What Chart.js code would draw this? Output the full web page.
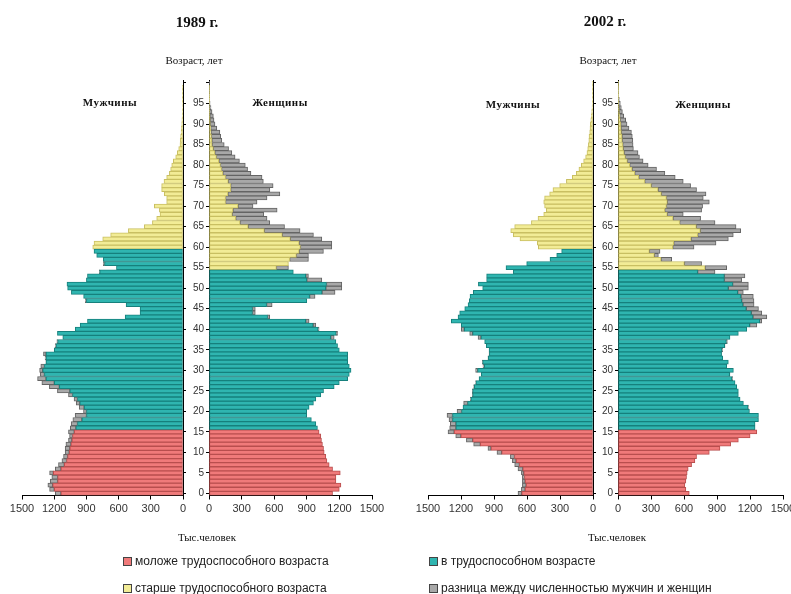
<!DOCTYPE html>
<html><head><meta charset="utf-8">
<script src="https://cdn.jsdelivr.net/npm/chart.js@4/dist/chart.umd.min.js"></script>
<style>
body{margin:0;width:791px;height:594px;overflow:hidden;background:#fff;position:relative;}
canvas{position:absolute;left:0;top:0;}
.t{position:absolute;font-family:"Liberation Serif","Times New Roman",serif;color:#111;white-space:nowrap;transform:translate(-50%,-50%);}
.yr{font-size:15px;font-weight:bold;}
.sm{font-size:11px;}
.sx{font-size:11px;font-weight:bold;letter-spacing:0.5px;}
.lg{position:absolute;font-family:"Liberation Sans",Arial,sans-serif;font-size:12px;color:#222;white-space:nowrap;transform:translateY(-50%);}
.lg i{display:inline-block;width:7px;height:7px;border:1px solid #444;margin-right:3px;vertical-align:-1px;}
</style></head><body>
<canvas id="m89" width="820" height="594"></canvas>
<canvas id="w89" width="820" height="594"></canvas>
<canvas id="m02" width="820" height="594"></canvas>
<canvas id="w02" width="820" height="594"></canvas>

<div class="t yr" style="left:197px;top:22px">1989 г.</div>
<div class="t yr" style="left:605px;top:21px">2002 г.</div>
<div class="t sm" style="left:194px;top:60px">Возраст, лет</div>
<div class="t sm" style="left:608px;top:60px">Возраст, лет</div>
<div class="t sx" style="left:110px;top:102px">Мужчины</div>
<div class="t sx" style="left:280px;top:102px">Женщины</div>
<div class="t sx" style="left:513px;top:104px">Мужчины</div>
<div class="t sx" style="left:703px;top:104px">Женщины</div>
<div class="t sm" style="left:207px;top:537px">Тыс.человек</div>
<div class="t sm" style="left:617px;top:537px">Тыс.человек</div>

<div class="lg" style="left:123px;top:561px"><i style="background:#F07A7A"></i>моложе трудоспособного возраста</div>
<div class="lg" style="left:123px;top:588px"><i style="background:#F2EC96"></i>старше трудоспособного возраста</div>
<div class="lg" style="left:429px;top:561px"><i style="background:#2FB5B0"></i>в трудоспособном возрасте</div>
<div class="lg" style="left:429px;top:588px"><i style="background:#A8A8A8"></i>разница между численностью мужчин и женщин</div>

<script>
// Age categories 0..100
const ages = [0,1,2,3,4,5,6,7,8,9,10,11,12,13,14,15,16,17,18,19,20,21,22,23,24,25,26,27,28,29,30,31,32,33,34,35,36,37,38,39,40,41,42,43,44,45,46,47,48,49,50,51,52,53,54,55,56,57,58,59,60,61,62,63,64,65,66,67,68,69,70,71,72,73,74,75,76,77,78,79,80,81,82,83,84,85,86,87,88,89,90,91,92,93,94,95,96,97,98,99,100];
const xTicks = [0,300,600,900,1200,1500];

// Population, thousand persons, by single year of age (index = age)
const men1989 = [1190,1243,1259,1237,1222,1243,1190,1160,1128,1113,1098,1098,1091,1067,1057,1067,1050,1042,1026,1005,927,967,995,1015,1067,1170,1245,1315,1355,1330,1336,1325,1278,1285,1300,1200,1190,1175,1120,1170,1004,958,890,539,400,400,530,
  910,926,1040,1075,1081,900,890,780,620,742,742,804,829,841,829,748,674,509,360,285,
  245,214,220,267,152,152,174,199,199,177,152,127,115,105,90,68,53,40,28,26,22,18,15,12,10,8,6,5,4,3,2,1,1,0];
const women1989 = [1137,1199,1214,1168,1168,1208,1137,1106,1085,1075,1060,1054,1044,1035,1029,1013,998,983,942,899,899,921,961,983,1029,1054,1152,1199,1276,1291,1307,1291,1276,1276,1276,1199,1183,1168,1152,1183,1013,983,921,559,426,426,581,
  900,976,1160,1222,1222,1038,915,776,731,731,915,915,1053,1130,1130,1038,961,838,
  695,559,534,504,627,405,442,534,652,560,590,500,488,386,355,334,280,240,210,180,140,118,108,100,72,55,46,40,28,18,10,7,5,3,2,1];
const men2002 = [682,651,642,642,642,651,682,712,733,751,873,955,1085,1151,1248,1318,1303,1297,1309,1327,1236,1182,1176,1115,1097,1097,1085,1067,1036,1015,1067,1000,1006,955,945,945,970,985,1045,1121,1197,1197,1288,1227,1212,1166,1136,
  1124,1118,1088,1003,1042,967,967,724,791,603,391,330,285,497,506,664,724,748,
  712,560,500,448,424,440,448,440,394,364,303,242,188,152,128,106,85,67,55,48,42,38,36,30,27,24,20,15,12,9,6,4,3,2,1,1];
const women2002 = [648,617,608,617,623,629,638,669,699,714,830,927,1024,1094,1201,1262,1246,1246,1277,1277,1195,1186,1140,1110,1094,1094,1079,1064,1043,1018,1049,988,1003,952,942,952,973,994,1018,1094,1170,1262,1307,1353,1307,1277,1237,
  1236,1230,1139,1185,1185,1124,1154,882,988,760,488,367,382,691,891,1003,1048,1115,
  1073,882,751,593,760,769,830,775,800,714,660,593,520,426,350,274,228,195,182,140,137,135,130,122,100,82,70,52,40,30,21,12,7,4,2,1];

const COL = {
  young:{bg:'#F07A7A', bd:'#B94E4E'},
  work:{bg:'#2FB5B0', bd:'#16807C'},
  old:{bg:'#F2EC96', bd:'#C9BF62'},
  diff:{bg:'#A8A8A8', bd:'#646464'}
};

function panel(id, own, other, isMen, workEnd, padL, padR){
  const base = own.map((v,i)=>Math.min(v, other[i]));
  const diff = own.map((v,i)=>v - base[i]);
  const mk = (label, data, c) => ({label, data, backgroundColor:c.bg, borderColor:c.bd, borderWidth:1,
      barPercentage:1, categoryPercentage:1, borderSkipped:false});
  const ds = [
    mk('young', base.map((v,i)=> ages[i]<=15 ? v : null), COL.young),
    mk('work', base.map((v,i)=> ages[i]>15 && ages[i]<=workEnd ? v : null), COL.work),
    mk('old', base.map((v,i)=> ages[i]>workEnd ? v : null), COL.old),
    mk('diff', diff.map(v=> v>0 ? v : null), COL.diff)
  ];
  new Chart(document.getElementById(id), {
    type:'bar',
    data:{labels:ages, datasets:ds},
    options:{
      indexAxis:'y', responsive:false, animation:false, devicePixelRatio:1,
      layout:{padding:{left:padL, right:padR, top:80.9, bottom:58.5}},
      plugins:{legend:{display:false}, tooltip:{enabled:false}},
      scales:{
        x:{stacked:true, min:0, max:1500, reverse:isMen,
           afterBuildTicks: s => { s.ticks = xTicks.map(v=>({value:v})); },
           ticks:{font:{family:'Liberation Sans', size:11}, color:'#333', maxRotation:0, padding:3,
                  callback: v => String(v)},
           grid:{drawOnChartArea:false, tickLength:4, color:'#000'},
           border:{color:'#000', width:1},
           afterFit: s => { s.height = 40; }},
        y:{stacked:true, reverse:true, position: isMen ? 'right' : 'left',
           grid:{offset:false, drawOnChartArea:false, tickLength:3,
                 color: ctx => (ages[ctx.index] % 5 === 0 ? '#000' : 'rgba(0,0,0,0)')},
           border:{color:'#000', width:1},
           ticks:{display:!isMen, autoSkip:false, padding:2, color:'#333',
                  font:{family:'Liberation Sans', size:10},
                  callback:(v,i)=> (ages[i] % 5 === 0 && ages[i] < 100) ? String(ages[i]) : ''},
           afterFit: s => { s.width = isMen ? 8 : 26; }}
      }
    }
  });
}

panel('m89', men1989, women1989, true, 59, 22, 629);
panel('w89', women1989, men1989, false, 54, 183, 448);
panel('m02', men2002, women2002, true, 59, 428, 219);
panel('w02', women2002, men2002, false, 54, 592, 37);
</script>
</body></html>
